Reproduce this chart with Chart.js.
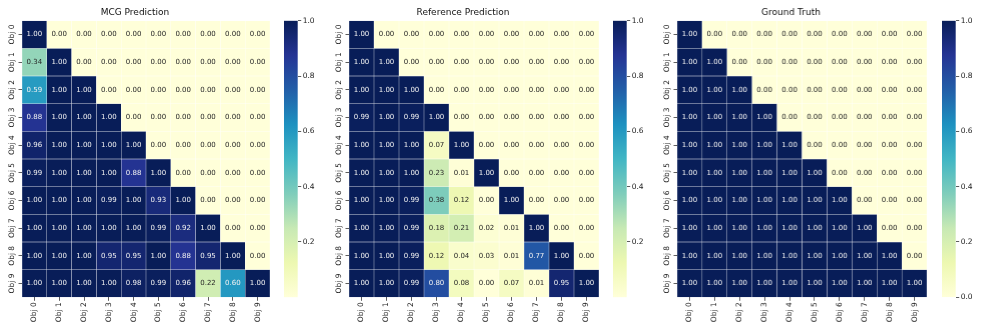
<!DOCTYPE html>
<html>
<head>
<meta charset="utf-8">
<script src="https://cdn.jsdelivr.net/npm/chart.js@4/dist/chart.umd.min.js"></script>
<style>
  body { margin: 0; background: #fff; }
  #wrap { position: relative; width: 997px; height: 332px; overflow: hidden; }
  #wrap canvas { position: absolute; top: 0; }
</style>
</head>
<body>
<div id="wrap"></div>
<script>
const objLabels = ['Obj 0', 'Obj 1', 'Obj 2', 'Obj 3', 'Obj 4', 'Obj 5', 'Obj 6', 'Obj 7', 'Obj 8', 'Obj 9'];

const mcgPrediction = [
    [1.00, 0.00, 0.00, 0.00, 0.00, 0.00, 0.00, 0.00, 0.00, 0.00],
    [0.34, 1.00, 0.00, 0.00, 0.00, 0.00, 0.00, 0.00, 0.00, 0.00],
    [0.59, 1.00, 1.00, 0.00, 0.00, 0.00, 0.00, 0.00, 0.00, 0.00],
    [0.88, 1.00, 1.00, 1.00, 0.00, 0.00, 0.00, 0.00, 0.00, 0.00],
    [0.96, 1.00, 1.00, 1.00, 1.00, 0.00, 0.00, 0.00, 0.00, 0.00],
    [0.99, 1.00, 1.00, 1.00, 0.88, 1.00, 0.00, 0.00, 0.00, 0.00],
    [1.00, 1.00, 1.00, 0.99, 1.00, 0.93, 1.00, 0.00, 0.00, 0.00],
    [1.00, 1.00, 1.00, 1.00, 1.00, 0.99, 0.92, 1.00, 0.00, 0.00],
    [1.00, 1.00, 1.00, 0.95, 0.95, 1.00, 0.88, 0.95, 1.00, 0.00],
    [1.00, 1.00, 1.00, 1.00, 0.98, 0.99, 0.96, 0.22, 0.60, 1.00]
];

const referencePrediction = [
    [1.00, 0.00, 0.00, 0.00, 0.00, 0.00, 0.00, 0.00, 0.00, 0.00],
    [1.00, 1.00, 0.00, 0.00, 0.00, 0.00, 0.00, 0.00, 0.00, 0.00],
    [1.00, 1.00, 1.00, 0.00, 0.00, 0.00, 0.00, 0.00, 0.00, 0.00],
    [0.99, 1.00, 0.99, 1.00, 0.00, 0.00, 0.00, 0.00, 0.00, 0.00],
    [1.00, 1.00, 1.00, 0.07, 1.00, 0.00, 0.00, 0.00, 0.00, 0.00],
    [1.00, 1.00, 1.00, 0.23, 0.01, 1.00, 0.00, 0.00, 0.00, 0.00],
    [1.00, 1.00, 0.99, 0.38, 0.12, 0.00, 1.00, 0.00, 0.00, 0.00],
    [1.00, 1.00, 0.99, 0.18, 0.21, 0.02, 0.01, 1.00, 0.00, 0.00],
    [1.00, 1.00, 0.99, 0.12, 0.04, 0.03, 0.01, 0.77, 1.00, 0.00],
    [1.00, 1.00, 0.99, 0.80, 0.08, 0.00, 0.07, 0.01, 0.95, 1.00]
];

const groundTruth = [
    [1.00, 0.00, 0.00, 0.00, 0.00, 0.00, 0.00, 0.00, 0.00, 0.00],
    [1.00, 1.00, 0.00, 0.00, 0.00, 0.00, 0.00, 0.00, 0.00, 0.00],
    [1.00, 1.00, 1.00, 0.00, 0.00, 0.00, 0.00, 0.00, 0.00, 0.00],
    [1.00, 1.00, 1.00, 1.00, 0.00, 0.00, 0.00, 0.00, 0.00, 0.00],
    [1.00, 1.00, 1.00, 1.00, 1.00, 0.00, 0.00, 0.00, 0.00, 0.00],
    [1.00, 1.00, 1.00, 1.00, 1.00, 1.00, 0.00, 0.00, 0.00, 0.00],
    [1.00, 1.00, 1.00, 1.00, 1.00, 1.00, 1.00, 0.00, 0.00, 0.00],
    [1.00, 1.00, 1.00, 1.00, 1.00, 1.00, 1.00, 1.00, 0.00, 0.00],
    [1.00, 1.00, 1.00, 1.00, 1.00, 1.00, 1.00, 1.00, 1.00, 0.00],
    [1.00, 1.00, 1.00, 1.00, 1.00, 1.00, 1.00, 1.00, 1.00, 1.00]
];

const panelTitles = ['MCG Prediction', 'Reference Prediction', 'Ground Truth'];
const colorbarTicks = [0.0, 0.2, 0.4, 0.6, 0.8, 1.0];

// YlGnBu (colorbrewer 9 classes)
const ylgnbu = ['#ffffd9', '#edf8b1', '#c7e9b4', '#7fcdbb', '#41b6c4', '#1d91c0', '#225ea8', '#253494', '#081d58'];
const FONT = "'DejaVu Sans', sans-serif";

function hexToRgb(h) {
    return [parseInt(h.slice(1, 3), 16), parseInt(h.slice(3, 5), 16), parseInt(h.slice(5, 7), 16)];
}

function cmapRgb(v) {
    v = Math.max(0, Math.min(1, v));
    const pos = v * (ylgnbu.length - 1);
    const i = Math.min(Math.floor(pos), ylgnbu.length - 2);
    const t = pos - i;
    const a = hexToRgb(ylgnbu[i]), b = hexToRgb(ylgnbu[i + 1]);
    return a.map((c, k) => Math.round(c + (b[k] - c) * t));
}

function cmap(v) {
    const c = cmapRgb(v);
    return `rgb(${c[0]},${c[1]},${c[2]})`;
}

function luminance(rgb) {
    const lin = rgb.map((c) => {
        c = c / 255;
        return c <= 0.03928 ? c / 12.92 : Math.pow((c + 0.055) / 1.055, 2.4);
    });
    return 0.2126 * lin[0] + 0.7152 * lin[1] + 0.0722 * lin[2];
}

// cell annotations + rotated y labels
const heatmapText = {
    id: 'heatmapText',
    afterDatasetsDraw(chart) {
        const ctx = chart.ctx;
        const matrix = chart.options.plugins.heatmapText.matrix;
        ctx.save();
        ctx.font = `7px ${FONT}`;
        ctx.textAlign = 'center';
        ctx.textBaseline = 'middle';
        chart.data.datasets.forEach((ds, r) => {
            const meta = chart.getDatasetMeta(r);
            meta.data.forEach((el, c) => {
                const v = matrix[r][c];
                ctx.fillStyle = luminance(cmapRgb(v)) > 0.408 ? '#262626' : '#f2f2f2';
                ctx.fillText(v.toFixed(2), el.x, (el.y + el.base) / 2);
            });
        });
        const yScale = chart.scales.y;
        const area = chart.chartArea;
        ctx.fillStyle = '#222';
        ctx.font = `7.5px ${FONT}`;
        objLabels.forEach((lab, i) => {
            const y = yScale.getPixelForValue(i + 0.5);
            ctx.save();
            ctx.translate(area.left - 9.5, y);
            ctx.rotate(-Math.PI / 2);
            ctx.fillText(lab, 0, 0);
            ctx.restore();
        });
        ctx.restore();
    }
};

const wrap = document.getElementById('wrap');
const panels = [
    { matrix: mcgPrediction, left: 21.7, right: 270, cbLeft: 284.3, showZero: false },
    { matrix: referencePrediction, left: 349.3, right: 599.3, cbLeft: 613.3, showZero: false },
    { matrix: groundTruth, left: 677.3, right: 926.7, cbLeft: 941.7, showZero: true }
];

const TOP = 20.7, BOTTOM = 297.3, AXW = 22;

panels.forEach((p, idx) => {
    // heatmap
    const cv = document.createElement('canvas');
    const w = (p.right - p.left) + 2 * AXW;
    cv.style.left = (p.left - AXW) + 'px';
    cv.style.width = w + 'px';
    cv.style.height = '332px';
    wrap.appendChild(cv);

    const datasets = p.matrix.map((row, r) => ({
        data: row.map(() => [r, r + 1]),
        backgroundColor: row.map((v) => cmap(v)),
        borderColor: 'rgba(255,255,255,0.07)',
        borderWidth: 0.5,
        borderSkipped: false,
        barPercentage: 1,
        categoryPercentage: 1,
        grouped: false
    }));

    new Chart(cv, {
        type: 'bar',
        data: { labels: objLabels, datasets: datasets },
        options: {
            responsive: false,
            animation: false,
            layout: { padding: { right: AXW, left: 0, top: 0, bottom: 0 } },
            plugins: {
                legend: { display: false },
                tooltip: { enabled: false },
                title: {
                    display: true,
                    text: panelTitles[idx],
                    color: '#111',
                    font: { family: FONT, size: 9, weight: 'normal' },
                    padding: { top: 7.2, bottom: 2.7 }
                },
                heatmapText: { matrix: p.matrix }
            },
            scales: {
                x: {
                    type: 'category',
                    grid: { offset: false, drawOnChartArea: false, drawTicks: true, tickLength: 3.5, color: '#333', tickWidth: 0.8 },
                    border: { display: false },
                    ticks: { color: '#222', font: { family: FONT, size: 7.5 }, minRotation: 90, maxRotation: 90, padding: 1.5 },
                    afterFit: (s) => { s.height = 332 - BOTTOM; }
                },
                y: {
                    type: 'linear',
                    min: 0,
                    max: 10,
                    reverse: true,
                    afterBuildTicks: (s) => { s.ticks = objLabels.map((_, i) => ({ value: i + 0.5 })); },
                    grid: { drawOnChartArea: false, drawTicks: true, tickLength: 3.5, color: '#333', tickWidth: 0.8 },
                    border: { display: false },
                    ticks: { display: false },
                    afterFit: (s) => { s.width = AXW; }
                }
            }
        },
        plugins: [heatmapText]
    });

    // colorbar
    const cb = document.createElement('canvas');
    cb.style.left = p.cbLeft + 'px';
    cb.style.width = '45px';
    cb.style.height = '332px';
    wrap.appendChild(cb);

    new Chart(cb, {
        type: 'bar',
        data: {
            labels: [''],
            datasets: [{
                data: [[0, 1]],
                backgroundColor: (c) => {
                    const area = c.chart.chartArea;
                    if (!area) return ylgnbu[4];
                    const g = c.chart.ctx.createLinearGradient(0, area.bottom, 0, area.top);
                    ylgnbu.forEach((col, i) => g.addColorStop(i / (ylgnbu.length - 1), col));
                    return g;
                },
                borderWidth: 0,
                barPercentage: 1,
                categoryPercentage: 1
            }]
        },
        options: {
            responsive: false,
            animation: false,
            layout: { padding: { top: TOP, bottom: 332 - BOTTOM, left: 0, right: 0 } },
            plugins: { legend: { display: false }, tooltip: { enabled: false } },
            scales: {
                x: { display: false },
                y: {
                    position: 'right',
                    min: 0,
                    max: 1,
                    afterBuildTicks: (s) => { s.ticks = colorbarTicks.map((v) => ({ value: v })); },
                    grid: { drawOnChartArea: false, drawTicks: true, tickLength: 3.5, color: '#333', tickWidth: 0.8 },
                    border: { display: false },
                    ticks: {
                        color: '#222',
                        font: { family: FONT, size: 7.5 },
                        padding: 1.5,
                        callback: (v) => (v === 0 && !p.showZero) ? null : v.toFixed(1)
                    },
                    afterFit: (s) => { s.width = 45 - (298 - 284.3); }
                }
            }
        }
    });
});
</script>
</body>
</html>
